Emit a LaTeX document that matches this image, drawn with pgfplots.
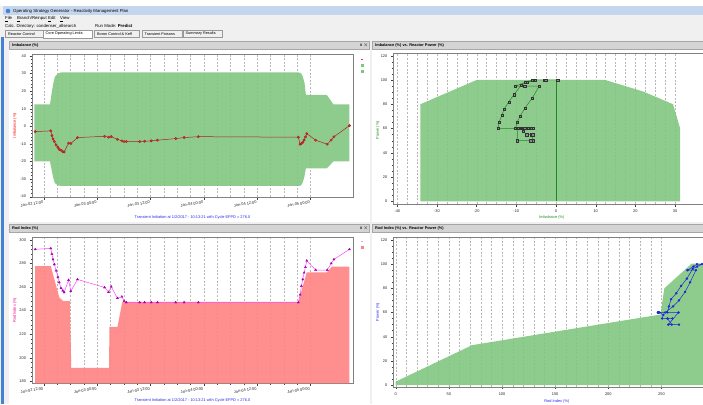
\documentclass[border=0pt]{standalone}
\usepackage{pgfplots}
\usepackage{pgfplotstable}
\pgfplotsset{compat=1.18}
\usepackage{fontspec}
\setmainfont{Liberation Sans}
\definecolor{bandgreen}{RGB}{126,198,126}
\definecolor{limred}{RGB}{255,130,130}
\definecolor{imbline}{RGB}{175,30,30}
\definecolor{imbmark}{RGB}{205,45,45}
\definecolor{rodline}{RGB}{255,70,255}
\definecolor{rodmark}{RGB}{165,0,175}
\definecolor{trajgreen}{RGB}{35,135,35}
\definecolor{trajblue}{RGB}{30,40,210}
\definecolor{hdrgray}{RGB}{212,212,212}
\definecolor{winbg}{RGB}{240,240,240}
\definecolor{titleblue}{RGB}{196,214,238}
\definecolor{labelblue}{RGB}{40,40,235}
\definecolor{framblue}{RGB}{70,130,210}

% time series: time (h from Jan-02 00:00), imbalance, rod index, power
\pgfplotstableread{
t imb rod pow
10.1 -3.0 292.1 100
13.6 -2.6 292.9 100
13.85 -5.3 288.1 100
14.1 -7.2 283.5 98
14.4 -8.7 279.3 96
14.8 -10.6 273.9 88
15.2 -11.9 268.5 82
15.5 -13.1 264.0 76
15.9 -13.6 259.1 71
16.3 -14.4 257.0 65
16.6 -14.6 255.5 60
17.6 -9.6 266.0 60
18.1 -9.8 256.5 50
19.6 -6.4 266.5 50
25.7 -5.7 259.7 50
26.6 -6.2 255.7 55
27.2 -5.9 260.3 55
28.6 -7.4 250.6 55
29.6 -8.3 251.8 58
30.1 -8.7 248.1 60
30.6 -8.7 247.0 60
33.6 -8.7 247.0 60
34.7 -8.5 247.0 60
36.2 -8.3 247.0 60
37.6 -7.9 247.0 60
41.7 -7.0 247.0 60
43.6 -6.4 247.0 60
46.8 -5.9 247.0 60
69.3 -6.2 247.0 60
69.7 -10.2 253.5 60
70.0 -9.8 260.9 65
70.3 -9.1 266.5 70
70.6 -7.8 272.2 77
70.9 -6.0 277.0 85
71.2 -4.2 282.4 95
73.2 -7.9 274.5 95
75.8 -10.2 274.5 95
76.7 -7.8 280.1 98
77.3 -6.0 283.5 100
80.8 0.4 292.1 100
}\tsdata

\pgfplotsset{
  osg/.style={
    scale only axis,
    axis background/.style={fill=white},
    axis line style={black!50, line width=0.35pt},
    tick style={black!75, line width=0.3pt},
    major tick length=2.5pt,
    minor tick length=1.3pt,
    tick align=outside,
    xtick pos=bottom, ytick pos=left,
    ticklabel style={font=\fontsize{3.9}{4.5}\selectfont, text=black!85},
    /pgf/number format/assume math mode=true,
    label style={font=\fontsize{3.9}{4.5}\selectfont},
    grid style={black!28, line width=0.25pt, dash pattern=on 2pt off 1.6pt},
    xmajorgrids, xminorgrids,
    legend style={draw=none, fill=none, inner sep=0pt, row sep=3.5pt,
      font=\fontsize{2}{2}\selectfont, nodes={inner sep=0.3pt}},
  },
  timeaxis/.style={
    osg,
    width=321pt,
    xmin=9.37, xmax=81.6,
    xtick={12,24,36,48,60,72},
    xticklabels={Jan-02 12:00,Jan-03 00:00,Jan-03 12:00,Jan-04 00:00,Jan-04 12:00,Jan-05 00:00},
    minor x tick num=3,
    xticklabel style={rotate=10, anchor=north east, inner sep=0.8pt},
    xlabel={Transient Initiation at 1/2/2017 - 10:13:21 with Cycle EFPD = 276.0},
    xlabel style={text=labelblue, anchor=center},
  },
}

\begin{document}
\begin{tikzpicture}[x=1pt,y=-1pt]
\useasboundingbox (0,0) rectangle (703,404);
\fill[winbg] (0,0) rectangle (703,404);
\fill[white] (0,0) rectangle (703,6);
% title bar
\fill[titleblue] (3,6.5) rectangle (703,15.5);
\fill[framblue] (8,11) circle (2.3);
\tikzset{ui/.style={font=\fontsize{4.3}{5}\selectfont, inner sep=0pt, anchor=west}}
\node[ui] at (13,11) {Operating Strategy Generator - Reactivity Management Plan};
% menu
\node[ui] at (5,19) {\underline{F}ile};
\node[ui] at (17,19) {\underline{B}ranch/Reinput};
\node[ui] at (48,19) {\underline{E}dit};
\node[ui] at (60,19) {\underline{V}iew};
% calc row
\node[ui] at (5,26) {Calc. Directory: condenser\_allsearch};
\node[ui] at (95,26) {Run Mode: \textbf{Predict}};
% tabs
\draw[black!40, fill=winbg, line width=0.3pt] (5.5,30.5) rectangle (42.7,37.5);
\draw[black!40, fill=white, line width=0.3pt] (42.7,29.8) rectangle (92,37.8);
\draw[black!40, fill=winbg, line width=0.3pt] (94.3,30.5) rectangle (139.3,37.5);
\draw[black!40, fill=winbg, line width=0.3pt] (141.7,30.5) rectangle (181.7,37.5);
\draw[black!40, fill=winbg, line width=0.3pt] (182.7,30.5) rectangle (221.7,37.5);
\node[ui, font=\fontsize{3.8}{4.5}\selectfont] at (8,34) {Reactor Control};
\node[ui, font=\fontsize{3.8}{4.5}\selectfont] at (45.5,34) {Core Operating Limits};
\node[ui, font=\fontsize{3.8}{4.5}\selectfont] at (97,34) {Boron Control \& Keff};
\node[ui, font=\fontsize{3.8}{4.5}\selectfont] at (144.5,34) {Transient Poisons};
\node[ui, font=\fontsize{3.8}{4.5}\selectfont] at (185.5,34) {Summary Results};
% window frame
\fill[framblue] (1.3,37) rectangle (3.6,404);
% panel bodies
\fill[white] (9,49.5) rectangle (370,222);
\fill[white] (372,49.5) rectangle (703,222);
\fill[white] (9,233) rectangle (370,404);
\fill[white] (372,233) rectangle (703,404);
% headers
\draw[black!35, fill=hdrgray, line width=0.3pt] (9.5,41.5) rectangle (369.5,49.5);
\draw[black!35, fill=hdrgray, line width=0.3pt] (372.3,41.5) rectangle (703.5,49.5);
\draw[black!35, fill=hdrgray, line width=0.3pt] (9.5,224.5) rectangle (369.5,232.5);
\draw[black!35, fill=hdrgray, line width=0.3pt] (372.3,224.5) rectangle (703.5,232.5);
\tikzset{hd/.style={font=\bfseries\fontsize{3.9}{4.5}\selectfont, inner sep=0pt, anchor=west}}
\node[hd] at (12,45.5) {Imbalance (\%)};
\node[hd] at (375,45.5) {Imbalance (\%) vs. Reactor Power (\%)};
\node[hd] at (12,228.5) {Rod Index (\%)};
\node[hd] at (375,228.5) {Rod Index (\%) vs. Reactor Power (\%)};
\node[hd] at (360,45.5) {\#\,$\times$};
\node[hd] at (360,228.5) {\#\,$\times$};

% ---------------- top left: Imbalance vs time ----------------
\begin{axis}[timeaxis,
  at={(32pt,-197pt)}, anchor=south west,
  height=143pt,
  ymin=-40.2, ymax=41.1,
  ytick={-40,-30,...,40},
  minor y tick num=4,
  ylabel={Imbalance (\%)},
  ylabel style={text=red, at={(axis description cs:-0.053,0.5)}, anchor=center},
  xlabel style={at={(axis description cs:0.5,-0.14)}},
  legend style={at={(axis description cs:1.022,0.97)}, anchor=north west},
]
\addlegendimage{legend image code/.code={\draw[red!80, line width=0.5pt] (0pt,0pt) -- (2.6pt,0pt);}}
\addlegendentry{}
\addlegendimage{legend image code/.code={\fill[bandgreen] (0.2pt,-1.1pt) rectangle (2.4pt,1.1pt);}}
\addlegendentry{}
\addlegendimage{legend image code/.code={\fill[bandgreen] (0.2pt,-1.1pt) rectangle (2.4pt,1.1pt);}}
\addlegendentry{}
\addplot[fill=bandgreen, draw=none, fill opacity=0.88, forget plot] coordinates {
 (9.93,12.5) (13.42,12.5) (13.79,18.8) (14.17,24.5) (14.54,28.3) (15.29,30.1) (16.04,30.7)
 (69.3,30.7) (69.9,30.1) (70.3,28.3) (70.7,24.5) (71.0,17.8) (75.7,17.8) (77.2,12.5) (80.8,12.5)
 (80.8,-20) (77.2,-20) (75.7,-23.9) (71.0,-23.9) (70.6,-29.5) (70.2,-32.4) (69.9,-33.7) (69.3,-33.9)
 (16.04,-33.9) (15.29,-33.7) (14.54,-32.4) (14.17,-29.5) (13.79,-24.8) (13.42,-20) (9.93,-20)
};
\addplot[imbline, line width=0.5pt, mark=*, mark size=1.25pt,
  mark options={fill=imbmark, draw=imbline, line width=0.3pt}, forget plot]
  table[x=t, y=imb]{\tsdata};
\end{axis}

% ---------------- bottom left: Rod index vs time ----------------
\begin{axis}[timeaxis,
  at={(32pt,-383.3pt)}, anchor=south west,
  height=146pt,
  ymin=178.2, ymax=302.3,
  ytick={180,200,...,300},
  minor y tick num=4,
  ylabel={Rod Index (\%)},
  ylabel style={text=magenta, at={(axis description cs:-0.053,0.5)}, anchor=center},
  xlabel style={at={(axis description cs:0.5,-0.121)}},
  legend style={at={(axis description cs:1.022,0.98)}, anchor=north west},
]
\addlegendimage{legend image code/.code={\draw[rodline!60, line width=0.6pt] (0pt,0pt) -- (2.6pt,0pt);}}
\addlegendentry{}
\addlegendimage{legend image code/.code={\fill[limred] (0.2pt,-1.1pt) rectangle (2.4pt,1.1pt);}}
\addlegendentry{}
\addplot[fill=limred, draw=none, fill opacity=0.9, forget plot] coordinates {
 (10.1,178.2) (10.1,277.8) (13.6,277.8) (15.5,251.2) (16.4,248.1) (17.9,248.1) (18.2,191.3)
 (26.7,191.3) (26.8,226.2) (28.6,226.2) (29.7,247.5) (69.3,247.5) (71.2,272.5) (75.7,272.5)
 (76.8,277.3) (80.8,277.3) (80.8,178.2)
};
\addplot[rodline, line width=0.5pt, mark=triangle*, mark size=1.35pt,
  mark options={fill=rodmark, draw=rodmark, line width=0.2pt}, forget plot]
  table[x=t, y=rod]{\tsdata};
\end{axis}

% ---------------- top right: Imbalance vs power ----------------
\begin{axis}[osg,
  at={(393.3pt,-204pt)}, anchor=south west,
  width=321.4pt, height=150.7pt,
  xmin=-41, xmax=40, ymin=-2.2, ymax=122,
  xtick={-40,-30,...,30}, minor x tick num=3,
  ytick={0,20,...,120}, minor y tick num=3,
  xlabel={Imbalance (\%)}, ylabel={Power (\%)},
  xlabel style={text=trajgreen, at={(axis description cs:0.493,-0.088)}, anchor=center},
  ylabel style={text=trajgreen, at={(axis description cs:-0.048,0.49)}, anchor=center},
]
\addplot[fill=bandgreen, draw=none, fill opacity=0.88] coordinates {
 (-34.2,0) (-34.2,80) (-20,100) (12.4,100) (22,90.5) (29.5,80) (31.3,60) (31.3,0)
};
\addplot[trajgreen, line width=0.8pt] coordinates {(0,0) (0,100)};
\addplot[trajgreen, line width=0.5pt, mark=square*, mark size=1.1pt,
  mark options={fill=black!45, draw=black!80, line width=0.3pt}]
  table[x=imb, y=pow]{\tsdata};
\end{axis}

% ---------------- bottom right: Rod index vs power ----------------
\begin{axis}[osg,
  at={(393.3pt,-386.7pt)}, anchor=south west,
  width=321.3pt, height=149.4pt,
  xmin=-2.26, xmax=300, ymin=-1.4, ymax=122.2,
  xtick={0,50,...,250}, minor x tick num=4,
  extra x ticks={300}, extra x tick labels={},
  ytick={0,20,...,120}, minor y tick num=3,
  xlabel={Rod Index (\%)}, ylabel={Power (\%)},
  xlabel style={text=labelblue, at={(axis description cs:0.509,-0.096)}, anchor=center},
  ylabel style={text=labelblue, at={(axis description cs:-0.048,0.5)}, anchor=center},
]
\addplot[fill=bandgreen, draw=none, fill opacity=0.88] coordinates {
 (0,0) (0,2.8) (72,33) (249,58.3) (252.7,80) (278.5,100.5) (305,100.5) (305,0)
};
\addplot[trajblue, line width=0.5pt, mark=*, mark size=0.95pt,
  mark options={fill=trajblue, draw=trajblue}]
  table[x=rod, y=pow]{\tsdata};
\end{axis}
\end{tikzpicture}
\end{document}
